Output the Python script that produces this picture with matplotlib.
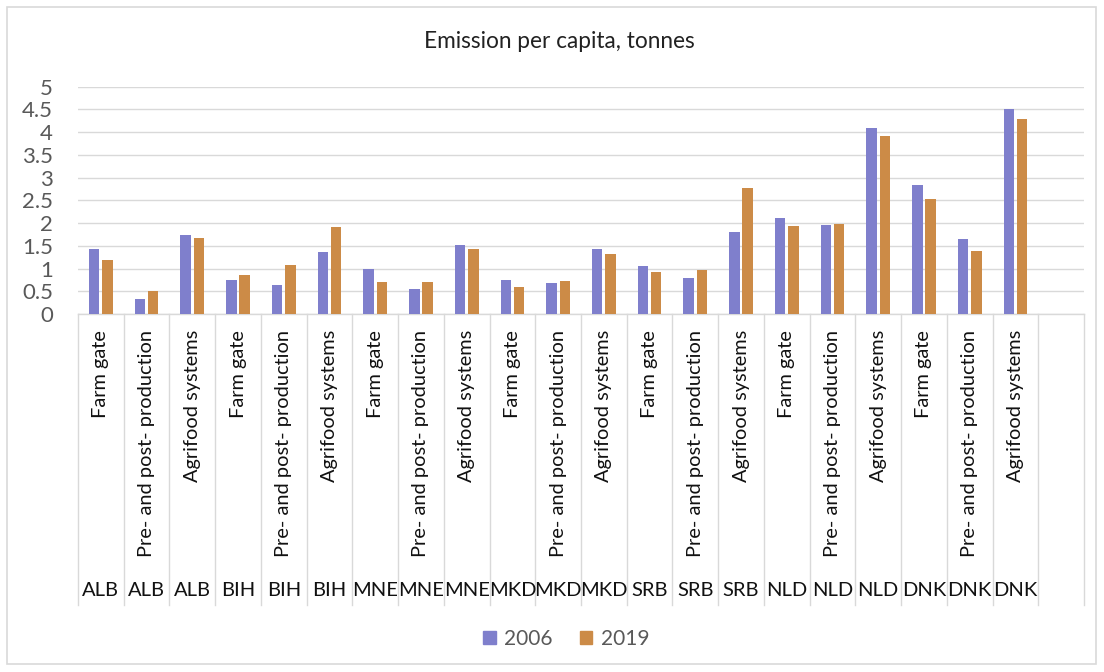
import matplotlib.pyplot as plt
import numpy as np
from matplotlib.patches import Patch, Rectangle
from matplotlib.transforms import blended_transform_factory

# Emission per capita (tonnes) by country and stage of the agrifood chain
countries = ['ALB', 'BIH', 'MNE', 'MKD', 'SRB', 'NLD', 'DNK']
stages = ['Farm gate', 'Pre- and post- production', 'Agrifood systems']
v2006 = [1.43, 0.33, 1.73, 0.74, 0.63, 1.37, 0.98, 0.54, 1.51, 0.75, 0.68, 1.43,
         1.05, 0.79, 1.81, 2.12, 1.96, 4.10, 2.83, 1.64, 4.50]
v2019 = [1.19, 0.50, 1.67, 0.85, 1.08, 1.91, 0.71, 0.71, 1.43, 0.60, 0.72, 1.33,
         0.93, 0.96, 2.77, 1.94, 1.97, 3.91, 2.53, 1.38, 4.30]
years = ['2006', '2019']

plt.rcParams['font.family'] = ['Lato', 'DejaVu Sans']

W, H = 1104, 672
fig = plt.figure(figsize=(W / 100, H / 100), dpi=100)
renderer = fig.canvas.get_renderer()


def fit_size(text, px, base=14):
    # font size that makes `text` about `px` pixels long
    t = fig.text(0, 0, text, fontsize=base)
    w = t.get_window_extent(renderer).width
    t.remove()
    return base * px / w


# outer chart frame
fig.patches.append(Rectangle((7 / W, 8 / H), 1089 / W, 657 / H, transform=fig.transFigure,
                             fill=False, edgecolor='#d9d9d9', linewidth=1.2))

left, right, top, bottom = 78, 1084, 86.7, 314
ax = fig.add_axes([left / W, 1 - bottom / H, (right - left) / W, (bottom - top) / H])

c2006 = '#7f7fcc'
c2019 = '#cc8b47'
n = len(v2006)
x = np.arange(n)
bw = 0.23
off = 0.145
ax.bar(x - off, v2006, bw, color=c2006, zorder=3)
ax.bar(x + off, v2019, bw, color=c2019, zorder=3)

ax.set_xlim(-0.5, n + 0.5)
ax.set_ylim(0, 5)
ax.set_yticks(np.arange(0, 5.01, 0.5))
ax.set_yticklabels(['0', '0.5', '1', '1.5', '2', '2.5', '3', '3.5', '4', '4.5', '5'])
ax.tick_params(axis='y', length=0, pad=18, labelsize=16, labelcolor='#595959')
ax.set_xticks([])
ax.grid(axis='y', color='#d9d9d9', linewidth=1, zorder=0)
for s in ['top', 'right', 'left']:
    ax.spines[s].set_visible(False)
ax.spines['bottom'].set_color('#d9d9d9')
ax.spines['bottom'].set_linewidth(1)

# two-level category axis drawn below the plot
trans = blended_transform_factory(ax.transData, fig.transFigure)
ytop = 1 - bottom / H
ybot = 1 - 605 / H
for b in np.arange(-0.5, n + 1, 1.0):
    ax.plot([b, b], [ytop, ybot], transform=trans, color='#d9d9d9', linewidth=1,
            clip_on=False)
stage_fs = fit_size(stages[1], 228)
for i in range(n):
    ax.text(i, 1 - 330 / H, stages[i % 3], transform=trans, rotation=90,
            ha='center', va='top', fontsize=stage_fs, color='#111111')
    ax.text(i, 1 - 591 / H, countries[i // 3], transform=trans,
            ha='center', va='center', fontsize=14.5, color='#111111')

title = 'Emission per capita, tonnes'
fig.text(559 / W, 1 - 42 / H, title, ha='center', va='center',
         fontsize=fit_size(title, 272), color='#222222')

handles = [Patch(color=c2006, label=years[0]), Patch(color=c2019, label=years[1])]
fig.legend(handles=handles, loc='center', bbox_to_anchor=(0.513, 1 - 639 / H), ncol=2,
           frameon=False, fontsize=15, labelcolor='#595959',
           handlelength=0.6, handleheight=0.6, handletextpad=0.4, columnspacing=1.3)

fig.savefig('out.png', dpi=100)
